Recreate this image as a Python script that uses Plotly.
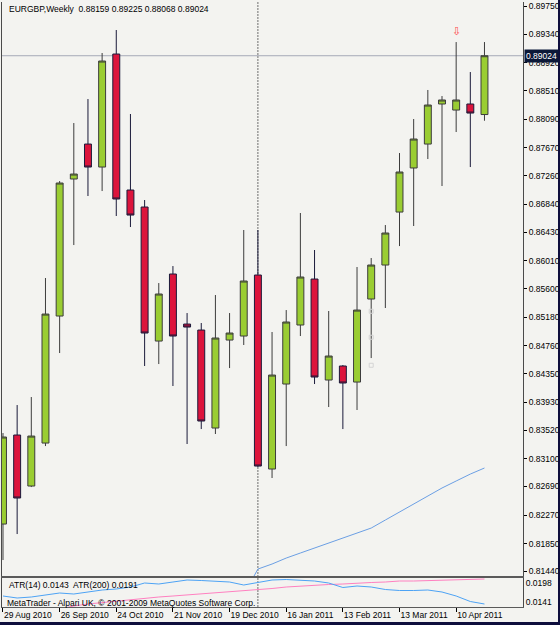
import plotly.graph_objects as go
import pandas as pd

# ---------------- data (EURGBP weekly) ----------------
dates = pd.date_range("2010-08-29", periods=35, freq="7D")
date_labels = [f"{d.day} {d.strftime('%b %Y')}" for d in dates]

opens  = [0.82137, 0.83446, 0.82696, 0.83328, 0.85196, 0.87211, 0.87725, 0.87387, 0.89049, 0.87049,
          0.86799, 0.84828, 0.85814, 0.85078, 0.84990, 0.83549, 0.84843, 0.84902, 0.85799, 0.82946,
          0.84196, 0.85064, 0.85740, 0.84255, 0.84461, 0.84225, 0.85446, 0.85946, 0.86725, 0.87373,
          0.87725, 0.88314, 0.88225, 0.88314, 0.88159]
highs  = [0.83475, 0.83887, 0.84005, 0.85755, 0.87181, 0.88034, 0.88387, 0.89064, 0.89402, 0.88167,
          0.86902, 0.85681, 0.85931, 0.85240, 0.85093, 0.85505, 0.85240, 0.86461, 0.86461, 0.84961,
          0.85284, 0.86711, 0.86167, 0.85270, 0.84475, 0.85917, 0.86049, 0.86534, 0.87593, 0.88093,
          0.88520, 0.88431, 0.89225, 0.88784, 0.89225]
lows   = [0.81608, 0.81990, 0.82681, 0.83284, 0.84652, 0.86240, 0.86961, 0.87034, 0.86667, 0.86505,
          0.84461, 0.84490, 0.84167, 0.83314, 0.83534, 0.83461, 0.84431, 0.84770, 0.82975, 0.82814,
          0.83284, 0.84902, 0.84196, 0.83858, 0.83534, 0.83814, 0.84578, 0.85314, 0.86225, 0.86520,
          0.87505, 0.87108, 0.87902, 0.87387, 0.88068]
closes = [0.83417, 0.82520, 0.83431, 0.85225, 0.87152, 0.87284, 0.87387, 0.88946, 0.86917, 0.86681,
          0.84946, 0.85520, 0.84902, 0.85034, 0.83652, 0.84873, 0.84946, 0.85711, 0.82990, 0.84328,
          0.85108, 0.85770, 0.84299, 0.84608, 0.84211, 0.85284, 0.85946, 0.86417, 0.87314, 0.87799,
          0.88299, 0.88373, 0.88373, 0.88181, 0.89024]

# blue indicator line drawn on the price chart (from week 18 on)
main_line_start = 17
main_line = [0.81100, 0.81475, 0.81549, 0.81637, 0.81711, 0.81784, 0.81858, 0.81931, 0.82005, 0.82078,
             0.82196, 0.82314, 0.82431, 0.82549, 0.82667, 0.82770, 0.82872, 0.82961]

atr14 = [0.0159, 0.0153, 0.0156, 0.0162, 0.0168, 0.0165, 0.0171, 0.0177, 0.0180, 0.0186,
         0.0198, 0.0195, 0.0201, 0.0207, 0.02055, 0.0204, 0.0201, 0.0192, 0.01995, 0.0207,
         0.02085, 0.0207, 0.0204, 0.0198, 0.01845, 0.0189, 0.0186, 0.01785, 0.01755, 0.01755,
         0.0177, 0.0171, 0.0159, 0.01425, 0.0135]
atr200 = [None, None, None, None, 0.0120, 0.0129, 0.0135, 0.01395, 0.0144, 0.01485,
          0.0153, 0.0156, 0.0159, 0.0162, 0.0165, 0.0168, 0.0171, 0.0174, 0.0177, 0.01815,
          0.0186, 0.0189, 0.0192, 0.01935, 0.0195, 0.0198, 0.01995, 0.0201, 0.0204, 0.0204,
          0.02055, 0.0207, 0.0207, 0.02085, 0.0210]

price_ticks = ["0.89750", "0.89340", "0.88920", "0.88510", "0.88090", "0.87670", "0.87260",
               "0.86840", "0.86430", "0.86010", "0.85600", "0.85180", "0.84760", "0.84350",
               "0.83930", "0.83520", "0.83100", "0.82690", "0.82270", "0.81850", "0.81440"]
atr_ticks = ["0.0198", "0.0141"]

arrow_week = 32
arrow_price = 0.89373
marks_week = 26
marks_prices = [0.85266, 0.84884, 0.84472]

header = "EURGBP,Weekly  0.88159 0.89225 0.88068 0.89024"
atr_text = "ATR(14) 0.0143  ATR(200) 0.0191"
copyright_text = "MetaTrader - Alpari UK, © 2001-2009 MetaQuotes Software Corp."

# ---------------- figure ----------------
idx = list(range(len(dates)))
W, H = 560, 625
ML, MR, MT, MB = 2, 37, 2, 18
plot_w = W - ML - MR
plot_h = H - MT - MB

def py(pix):  # pixel row -> paper y
    return (H - MB - pix) / plot_h

def px(pix):  # pixel col -> paper x
    return (pix - ML) / plot_w

FONT = "Liberation Sans"
BG = "#f3f3f0"

fig = go.Figure()
fig.add_trace(go.Candlestick(
    x=idx, open=opens, high=highs, low=lows, close=closes,
    increasing=dict(fillcolor="#9acd32", line=dict(color="#3c3c3c", width=1)),
    decreasing=dict(fillcolor="#dc143c", line=dict(color="#1a1a3a", width=1)),
    whiskerwidth=0, showlegend=False, hoverinfo="skip", xaxis="x", yaxis="y"))

fig.add_trace(go.Scatter(
    x=idx[main_line_start:], y=main_line, mode="lines",
    line=dict(color="#6b9fe4", width=1), showlegend=False, hoverinfo="skip",
    xaxis="x", yaxis="y"))

fig.add_trace(go.Scatter(
    x=[marks_week] * len(marks_prices), y=marks_prices, mode="markers",
    marker=dict(symbol="square-open", size=4, color="#d4d4d4", line=dict(width=1)),
    showlegend=False, hoverinfo="skip", xaxis="x", yaxis="y"))

fig.add_trace(go.Scatter(
    x=idx, y=atr200, mode="lines", line=dict(color="#ff80c0", width=1),
    showlegend=False, hoverinfo="skip", xaxis="x2", yaxis="y2"))
fig.add_trace(go.Scatter(
    x=idx, y=atr14, mode="lines", line=dict(color="#4da3f5", width=1),
    showlegend=False, hoverinfo="skip", xaxis="x2", yaxis="y2"))

sep_week = next(i for i, d in enumerate(dates) if d.year == 2011)
last_close = closes[-1]

shapes = [
    # bid line
    dict(type="line", xref="x", yref="y", x0=-1, x1=40, y0=last_close, y1=last_close,
         line=dict(color="#a6aab8", width=1), layer="below"),
    # period separator
    dict(type="line", xref="x", yref="paper", x0=sep_week, x1=sep_week, y0=0, y1=1,
         line=dict(color="#6e6e6e", width=1, dash="2px,1px"), layer="below"),
    # window border (bottom / right)
    dict(type="rect", xref="paper", yref="paper", x0=px(-2), x1=px(562), y0=py(627), y1=py(622),
         fillcolor="#0e0e3c", line=dict(width=0)),
    dict(type="rect", xref="paper", yref="paper", x0=px(558), x1=px(562), y0=py(627), y1=py(-2),
         fillcolor="#0e0e3c", line=dict(width=0)),
]

annotations = [
    dict(text=header, xref="paper", yref="paper", x=px(7), y=py(8.5), xanchor="left",
         yanchor="middle", showarrow=False, font=dict(family=FONT, size=8.5, color="#000000")),
    dict(text=atr_text, xref="paper", yref="paper", x=px(7), y=py(584.5), xanchor="left",
         yanchor="middle", showarrow=False, font=dict(family=FONT, size=8.5, color="#000000")),
    dict(text=copyright_text, xref="paper", yref="paper", x=px(5), y=py(602.5), xanchor="left",
         yanchor="middle", showarrow=False, font=dict(family=FONT, size=8.5, color="#000000")),
    dict(text=f"{last_close:.5f}", xref="paper", yref="y", x=1, y=last_close, xanchor="left",
         yanchor="middle", xshift=1, showarrow=False, bgcolor="#0b1838", borderpad=1,
         font=dict(family=FONT, size=8.5, color="#ffffff")),
    dict(text="⇩", xref="x", yref="y", x=arrow_week, y=arrow_price, showarrow=False,
         font=dict(family="DejaVu Sans", size=11, color="#ff4a4a")),
]

tick_weeks = idx[::4]
fig.update_layout(
    width=W, height=H,
    margin=dict(l=ML, r=MR, t=MT, b=MB, pad=0, autoexpand=False),
    paper_bgcolor=BG, plot_bgcolor=BG,
    font=dict(family=FONT, size=8.5, color="#000000"),
    shapes=shapes, annotations=annotations,
    xaxis=dict(domain=[0, 1], anchor="y", range=[-0.07, 36.72], showticklabels=False,
               showgrid=False, zeroline=False, showline=True, linecolor="#5a5a5a", linewidth=1,
               ticks="", rangeslider=dict(visible=False), automargin=False),
    xaxis2=dict(domain=[0, 1], anchor="y2", matches="x", range=[-0.07, 36.72],
                tickvals=tick_weeks, ticktext=[date_labels[i] for i in tick_weeks],
                tickangle=0, automargin=False,
                ticks="outside", ticklen=4, tickcolor="#000000",
                ticklabelposition="outside right", showgrid=False, zeroline=False,
                showline=True, mirror=True, linecolor="#5a5a5a", linewidth=1,
                rangeslider=dict(visible=False), tickfont=dict(family=FONT, size=8.5)),
    yaxis=dict(domain=[py(576), 1], anchor="x", side="right", automargin=False,
               range=[0.81373, 0.89814], tickvals=[float(t) for t in price_ticks],
               ticktext=price_ticks, ticks="outside", ticklen=3, tickcolor="#000000",
               showgrid=False, zeroline=False, showline=True, mirror=True,
               linecolor="#4a4a4a", linewidth=1, tickfont=dict(family=FONT, size=8.5)),
    yaxis2=dict(domain=[0, py(578)], anchor="x2", side="right", automargin=False,
                range=[0.0126, 0.0213], tickvals=[float(t) for t in atr_ticks],
                ticktext=atr_ticks, ticks="", showgrid=False, zeroline=False,
                showline=True, mirror=True, linecolor="#4a4a4a", linewidth=1,
                tickfont=dict(family=FONT, size=8.5)),
)

fig.write_html("out.html")
